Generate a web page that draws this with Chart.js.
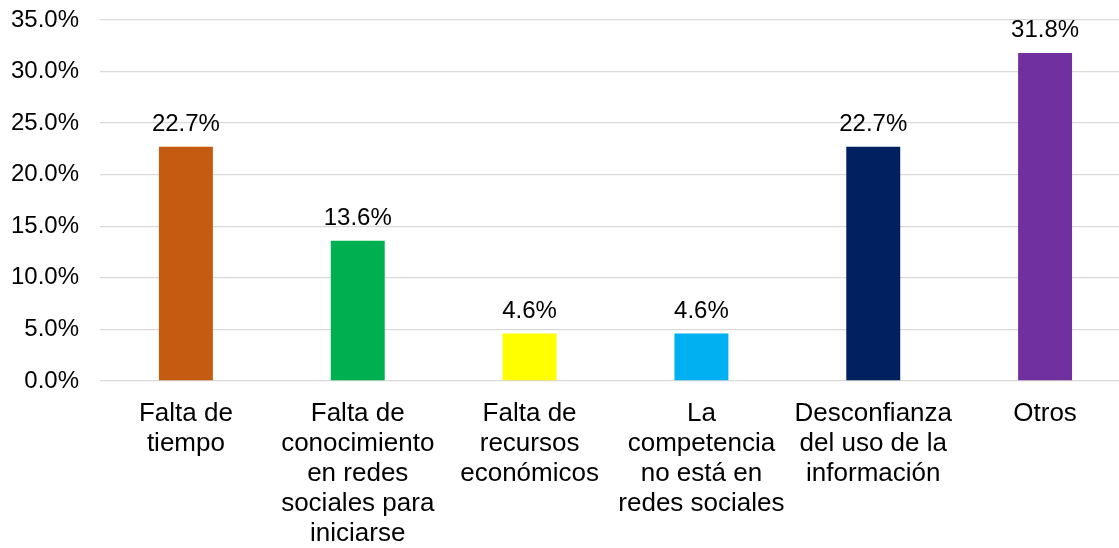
<!DOCTYPE html>
<html>
<head>
<meta charset="utf-8">
<script src="https://cdn.jsdelivr.net/npm/chart.js@4/dist/chart.umd.min.js"></script>
<style>
  html, body { margin: 0; padding: 0; background: #fff; overflow: hidden; height: 548px; }
</style>
</head>
<body>
<canvas id="grafico" width="1135" height="559"></canvas>
<script>
// categorias (multilinea como en el original)
var categorias = [
  ['Falta de', 'tiempo'],
  ['Falta de', 'conocimiento', 'en redes', 'sociales para', 'iniciarse'],
  ['Falta de', 'recursos', 'económicos'],
  ['La', 'competencia', 'no está en', 'redes sociales'],
  ['Desconfianza', 'del uso de la', 'información'],
  ['Otros']
];
var porcentajes = [22.7, 13.6, 4.6, 4.6, 22.7, 31.8];
var colores = ['#C55A11', '#00B050', '#FFFF00', '#00B0F0', '#002060', '#7030A0'];
var ejeY = { min: 0, max: 35, paso: 5 };

var fuente = '"Liberation Sans", Arial, sans-serif';

// etiquetas encima de cada barra
var etiquetasBarras = {
  id: 'etiquetasBarras',
  afterDatasetsDraw: function (chart) {
    var ctx = chart.ctx;
    var meta = chart.getDatasetMeta(0);
    ctx.save();
    ctx.font = '24px ' + fuente;
    ctx.fillStyle = '#000';
    ctx.textAlign = 'center';
    ctx.textBaseline = 'alphabetic';
    meta.data.forEach(function (bar, i) {
      ctx.fillText(porcentajes[i].toFixed(1) + '%', bar.x, bar.y - 16);
    });
    ctx.restore();
  }
};

var ctx = document.getElementById('grafico').getContext('2d');
var grafico = new Chart(ctx, {
  type: 'bar',
  data: {
    labels: categorias,
    datasets: [{
      data: porcentajes,
      backgroundColor: colores,
      borderWidth: 0,
      barPercentage: 0.314,
      categoryPercentage: 1
    }]
  },
  options: {
    responsive: false,
    animation: false,
    layout: { padding: { top: 20, right: 4, bottom: 0, left: 0 } },
    plugins: {
      legend: { display: false },
      tooltip: { enabled: false }
    },
    scales: {
      x: {
        grid: { display: false },
        border: { display: false },
        ticks: {
          color: '#000',
          font: { family: fuente, size: 26, lineHeight: '30px' },
          padding: 10,
          autoSkip: false,
          maxRotation: 0,
          minRotation: 0
        }
      },
      y: {
        min: ejeY.min,
        max: ejeY.max,
        afterFit: function (scale) { scale.width = 100; },
        grid: { color: '#D9D9D9', lineWidth: 1.3, drawTicks: true, tickLength: 21, tickColor: 'rgba(0,0,0,0)' },
        border: { display: false },
        ticks: {
          stepSize: ejeY.paso,
          padding: 0,
          color: '#000',
          font: { family: fuente, size: 24 },
          callback: function (v) { return v.toFixed(1) + '%'; }
        }
      }
    }
  },
  plugins: [etiquetasBarras]
});
</script>
</body>
</html>
